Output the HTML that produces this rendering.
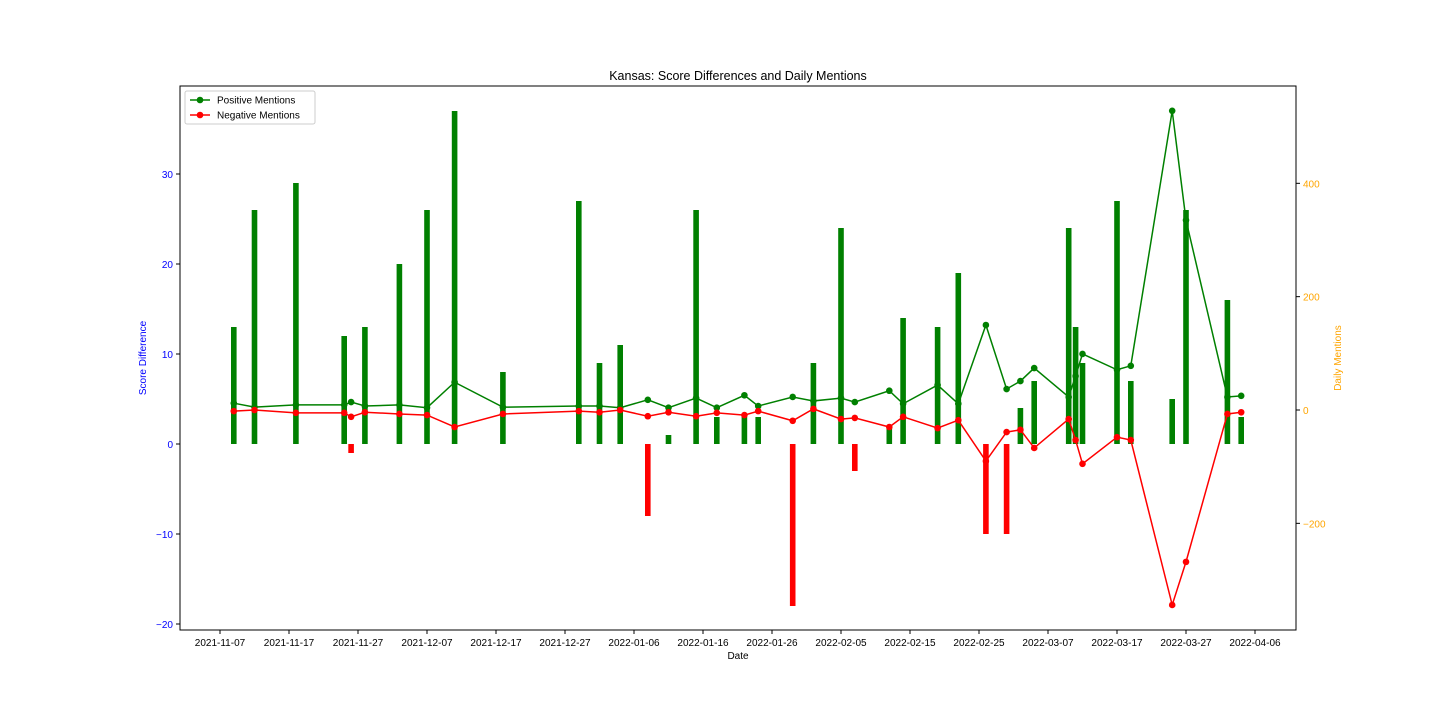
<!DOCTYPE html>
<html><head><meta charset="utf-8"><style>
body{margin:0;background:#fff;font-family:"Liberation Sans",sans-serif}
svg text{font-family:"Liberation Sans",sans-serif}
</style></head><body>
<svg id="c" width="1440" height="720"></svg>
<script>
const dates=["2021-11-09","2021-11-12","2021-11-18","2021-11-25","2021-11-26","2021-11-28","2021-12-03","2021-12-07","2021-12-11","2021-12-18","2021-12-29","2022-01-01","2022-01-04","2022-01-08","2022-01-11","2022-01-15","2022-01-18","2022-01-22","2022-01-24","2022-01-29","2022-02-01","2022-02-05","2022-02-07","2022-02-12","2022-02-14","2022-02-19","2022-02-22","2022-02-26","2022-03-01","2022-03-03","2022-03-05","2022-03-10","2022-03-11","2022-03-12","2022-03-17","2022-03-19","2022-03-25","2022-03-27","2022-04-02","2022-04-04"];
const scoreDiff=[13,26,29,12,-1,13,20,26,37,8,27,9,11,-8,1,26,3,3,3,-18,9,24,-3,2,14,13,19,-10,-10,4,7,24,13,9,27,7,5,26,16,3];
const posMentions=[12,5,9,9,14,7,9,4,49,5,7,7,4,18,4,21,4,26,7,23,16,21,14,34,11,44,11,150,37,51,74,23,60,99,71,78,528,335,23,25];
const negMentions=[-2,0,-5,-5,-12,-4,-7,-9,-30,-7,-2,-4,0,-11,-4,-11,-5,-9,-2,-19,2,-16,-14,-30,-12,-32,-18,-90,-39,-35,-67,-16,-53,-95,-48,-53,-344,-268,-7,-4];
const leftTicks=[-20,-10,0,10,20,30];
const rightTicks=[-200,0,200,400];
const xTicks=["2021-11-07","2021-11-17","2021-11-27","2021-12-07","2021-12-17","2021-12-27","2022-01-06","2022-01-16","2022-01-26","2022-02-05","2022-02-15","2022-02-25","2022-03-07","2022-03-17","2022-03-27","2022-04-06"];

const NS="http://www.w3.org/2000/svg",svg=document.getElementById('c');
const L=180,R=1296,T=86,B=630;
const d0=Date.UTC(2021,10,7);
const dayOf=s=>{const p=s.split('-');return (Date.UTC(+p[0],p[1]-1,+p[2])-d0)/864e5;};
const x=s=>220+dayOf(s)*6.9;
const yL=v=>444-v*9;
const yR=v=>410-v*0.5667;
function el(t,a,p){const e=document.createElementNS(NS,t);for(const k in a)e.setAttribute(k,a[k]);(p||svg).appendChild(e);return e;}
function txt(s,a){const e=el('text',a);e.textContent=s;return e;}

let t;
t=txt("Kansas: Score Differences and Daily Mentions",{x:738,y:80,'text-anchor':'middle','font-size':12.5});


// bars
dates.forEach((d,i)=>{const v=scoreDiff[i];const y0=yL(0),y1=yL(v);
 const r=el('rect',{x:x(d)-2.8,y:Math.min(y0,y1),width:5.6,height:Math.abs(y1-y0),fill:v>=0?'#008000':'#ff0000'});
 });

function line(vals,col,name){
 const p=el('polyline',{points:dates.map((d,i)=>x(d)+','+yR(vals[i])).join(' '),fill:'none',stroke:col,'stroke-width':1.5});
 
 dates.forEach((d,i)=>{const c=el('circle',{cx:x(d),cy:yR(vals[i]),r:3.3,fill:col});
  });
}
line(posMentions,'#008000','positive-mentions');
line(negMentions,'#ff0000','negative-mentions');

const f=el('rect',{x:L,y:T,width:R-L,height:B-T,fill:'none',stroke:'#000','stroke-width':1});


leftTicks.forEach(v=>{const y=yL(v);el('line',{x1:L-4,x2:L,y1:y,y2:y,stroke:'#000'});
 t=txt(v<0?'\u2212'+(-v):v,{x:L-7,y:y+4,'text-anchor':'end','font-size':10,fill:'#0000ff'});
 });
rightTicks.forEach(v=>{const y=yR(v);el('line',{x1:R,x2:R+4,y1:y,y2:y,stroke:'#000'});
 t=txt(v<0?'\u2212'+(-v):v,{x:R+7,y:y+4,'font-size':10,fill:'#ffa500'});
 });
xTicks.forEach(s=>{const xx=x(s);el('line',{x1:xx,x2:xx,y1:B,y2:B+4,stroke:'#000'});
 t=txt(s,{x:xx,y:B+16,'text-anchor':'middle','font-size':10});
 });

t=txt("Date",{x:738,y:659,'text-anchor':'middle','font-size':10});
t=txt("Score Difference",{x:146,y:358,'text-anchor':'middle','font-size':10,fill:'#0000ff',transform:'rotate(-90 146 358)'});
t=txt("Daily Mentions",{x:1341,y:358,'text-anchor':'middle','font-size':10,fill:'#ffa500',transform:'rotate(-90 1341 358)'});

const lg=el('g',{});
el('rect',{x:185,y:91,width:130,height:33,fill:'#fff',stroke:'#ccc',rx:2},lg);
[['Positive Mentions','#008000',100],['Negative Mentions','#ff0000',115]].forEach(([n,c,y])=>{
 const g=el('g',{},lg);
 el('line',{x1:190,x2:210,y1:y,y2:y,stroke:c,'stroke-width':1.5},g);
 el('circle',{cx:200,cy:y,r:3.3,fill:c},g);
 const tt=el('text',{x:217,y:y+3.5,'font-size':10},g);tt.textContent=n;});
</script>
</body></html>
